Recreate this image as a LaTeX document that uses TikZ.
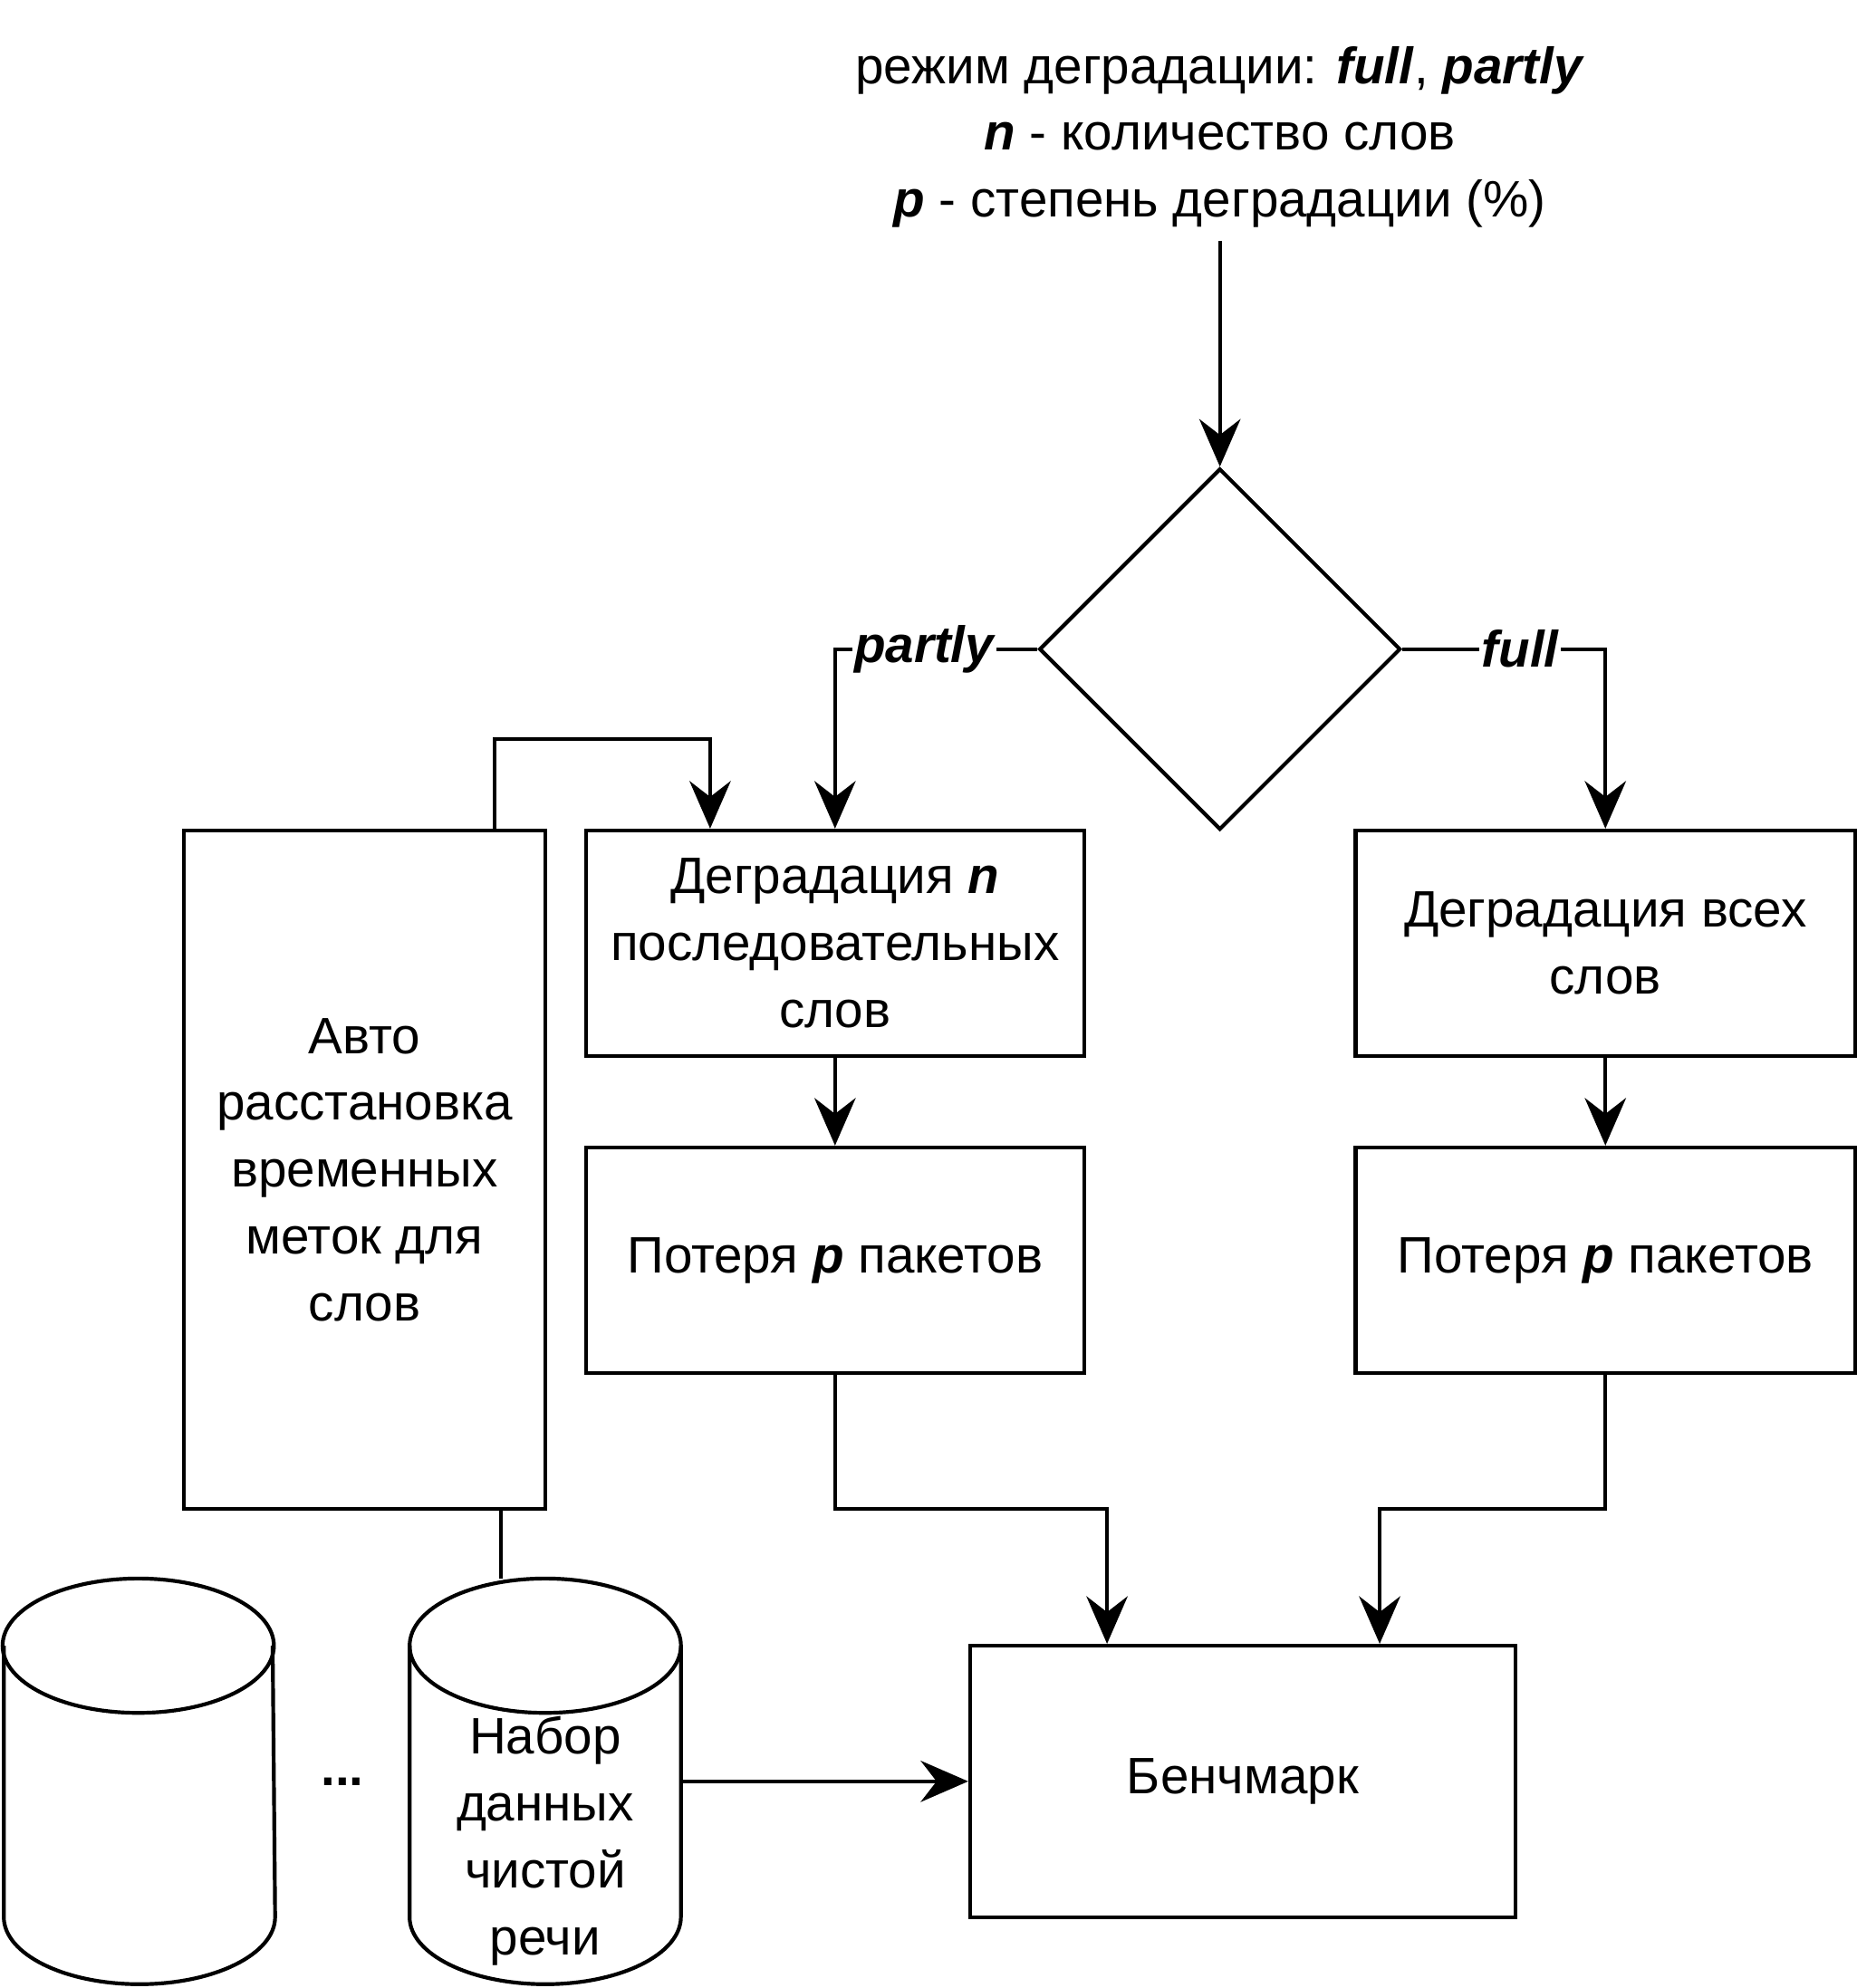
\documentclass[tikz,border=0pt]{standalone}
\usepackage{fontspec}
\setmainfont{Liberation Sans}
\usetikzlibrary{shapes.geometric,arrows.meta}
\begin{document}
\begin{tikzpicture}[x=0.02cm,y=-0.02cm,
  every node/.style={font=\fontsize{23}{30}\selectfont, align=center},
  box/.style={draw, line width=1.7pt, inner sep=0pt},
  ln/.style={line width=1.7pt},
  arr/.style={ln, -{Stealth[length=0.75cm,width=0.65cm,inset=0.25cm]}},
  lbl/.style={fill=white, inner sep=1pt, font=\fontsize{23}{30}\selectfont\bfseries\itshape}]
\useasboundingbox (0,0) rectangle (1464,1568);
\node (top) at (962,108) {режим деградации: \textbf{\textit{full}}, \textbf{\textit{partly}}\\\textbf{\textit{n}} - количество слов\\\textbf{\textit{p}} - степень деградации (\%)};
\coordinate (ts) at (962,190);
\node (dia) [box, diamond, minimum width=5.7cm, minimum height=5.7cm] at (962,512) {};
\node (a) [box, minimum width=7.86cm, minimum height=3.56cm] at (658.5,744) {Деградация \textbf{\textit{n}}\\последовательных\\слов};
\node (b) [box, minimum width=7.86cm, minimum height=3.56cm] at (658.5,994) {Потеря \textbf{\textit{p}} пакетов};
\node (c) [box, minimum width=7.88cm, minimum height=3.56cm] at (1266,744) {Деградация всех\\слов};
\node (d) [box, minimum width=7.88cm, minimum height=3.56cm] at (1266,994) {Потеря \textbf{\textit{p}} пакетов};
\node (auto) [box, minimum width=5.7cm, minimum height=10.7cm] at (287.5,922.5) {Авто\\расстановка\\временных\\меток для\\слов};
\node (bench) [box, minimum width=8.6cm, minimum height=4.28cm] at (980,1405) {Бенчмарк};
% cylinders
\foreach \xl/\xc/\xr in {3/109/215, 323/430/537}{
  \draw[ln, fill=white] (\xl,1298) -- (\xl,1512) arc[start angle=180,end angle=360,x radius=2.14cm,y radius=1.06cm] -- (\xr,1298);
  \draw[ln] (\xc,1298) ellipse [x radius=2.14cm, y radius=1.06cm];
}
\node (ds) at (430,1452) {Набор\\данных\\чистой\\речи};
\node (dots) at (270,1405) {\textbf{...}};
\coordinate (dsr) at (537,1405);
\coordinate (dstop) at (395,1245);
% connectors
\draw[arr] (ts) -- (dia.north);
\draw[arr] (dia.west) -| node[lbl, pos=0.28] {partly} (a.north);
\draw[arr] (dia.east) -| node[lbl, pos=0.29] {full} (c.north);
\draw[arr] (a) -- (b);
\draw[arr] (c) -- (d);
\draw[arr] (auto.north -| 390,0) |- (560,583) -- (a.north -| 560,0);
\draw[ln] (auto.south -| dstop) -- (dstop);
\draw[arr] (dsr) -- (bench.west);
\draw[arr] (b.south) |- (873,1190) -- (bench.north -| 873,0);
\draw[arr] (d.south) |- (1088,1190) -- (bench.north -| 1088,0);
\end{tikzpicture}
\end{document}
